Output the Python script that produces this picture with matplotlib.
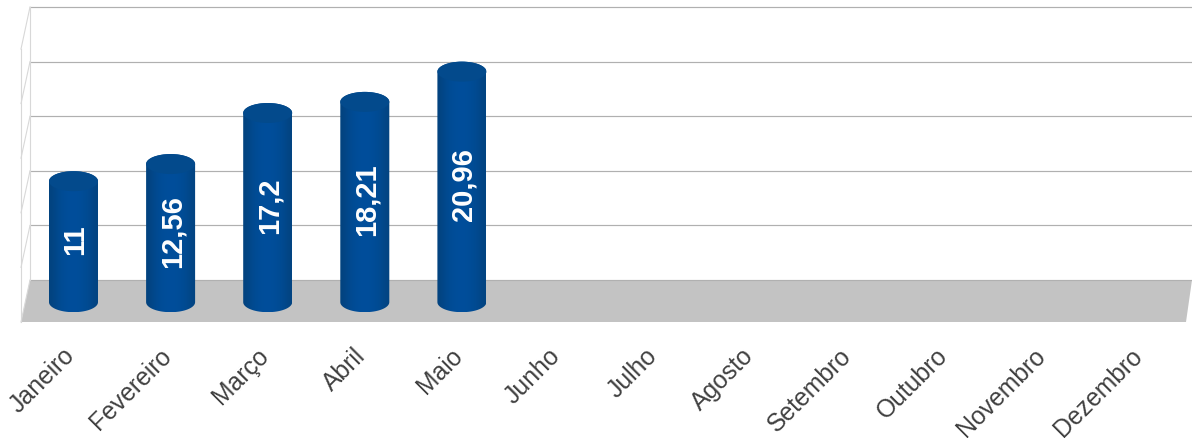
import numpy as np
import matplotlib
matplotlib.use("Agg")
import matplotlib.pyplot as plt
from matplotlib.patches import Ellipse, Polygon, PathPatch
from matplotlib.path import Path

plt.rcParams['font.family'] = ['Liberation Sans', 'DejaVu Sans']

months = ["Janeiro", "Fevereiro", "Março", "Abril", "Maio", "Junho", "Julho",
          "Agosto", "Setembro", "Outubro", "Novembro", "Dezembro"]
values = [11, 12.56, 17.2, 18.21, 20.96]
value_labels = ["11", "12,56", "17,2", "18,21", "20,96"]
grid_levels = [0, 5, 10, 15, 20, 25]

W, H = 1192, 439
fig = plt.figure(figsize=(W / 100, H / 100), dpi=100, facecolor="white")

# back wall and floor: x in pixels, y in chart units
wall = fig.add_axes([0, 0, 1, 1])
wall_scale = 10.92
wall.set_xlim(0, W)
wall.set_ylim(-(H - 281) / wall_scale, 281 / wall_scale)
wall.axis("off")

drop = 42 / wall_scale
wall.add_patch(Polygon([(21, -drop), (30, 0), (1192, 0), (1186, -drop)],
                       closed=True, fc="#c3c3c3", ec="none", zorder=1))
for level in grid_levels:
    wall.plot([30, 1192], [level, level], color="#b0b0b0", lw=0.85, zorder=2)
    wall.plot([21, 30], [level - drop, level], color="#d8d8d8", lw=0.8, zorder=2)
wall.plot([30, 30], [0, grid_levels[-1]], color="#d8d8d8", lw=0.8, zorder=2)
wall.plot([21, 21], [-drop, grid_levels[-1] - drop], color="#d8d8d8", lw=0.8, zorder=2)

# bars: x in categories, y in chart units
ax = fig.add_axes([0, 0, 1, 1])
ax.patch.set_alpha(0)
step, scale = 97.1, 11.0
ax.set_xlim(-73.5 / step, (W - 73.5) / step)
ax.set_ylim(-(H - 303.2) / scale, 303.2 / scale)
ax.axis("off")

half_w = 24.5 / step
half_h = 10 / scale
shade = np.array([[0.0, 0.5, 0.8, 0.95, 1.0, 0.95, 0.8, 0.55, 0.1]])
cmap = matplotlib.colors.LinearSegmentedColormap.from_list("bar", ["#03437f", "#004e9b"])

for i, v in enumerate(values):
    # cylinder body: rectangle closed by half ellipses
    t = np.linspace(np.pi, 2 * np.pi, 40)
    low = np.column_stack([i + half_w * np.cos(t), half_h * np.sin(t)])
    high = np.column_stack([i + half_w * np.cos(t[::-1]), v - half_h * np.sin(t[::-1])])
    outline = np.vstack([low, high])
    clip = PathPatch(Path(outline), fc="none", ec="none", transform=ax.transData)
    ax.add_patch(clip)
    im = ax.imshow(shade, cmap=cmap, vmin=0, vmax=1, aspect="auto", interpolation="bicubic",
                   extent=[i - half_w, i + half_w, -half_h, v + half_h], zorder=3)
    im.set_clip_path(clip)
    ax.add_patch(Ellipse((i, v), 2 * half_w, 2 * half_h, fc="#034a8c", ec="none", zorder=4))
    ax.annotate(value_labels[i], (i, v / 2), xytext=(2, 3), textcoords="offset pixels",
                rotation=90, color="white", fontsize=21, fontweight="bold",
                ha="center", va="center", zorder=5)

ax.set_xlim(-73.5 / step, (W - 73.5) / step)
ax.set_ylim(-(H - 303.2) / scale, 303.2 / scale)

for i, m in enumerate(months):
    ax.annotate(m, (i, 0), xytext=(-3, -49), textcoords="offset pixels",
                rotation=45, rotation_mode="anchor", ha="right", va="center",
                fontsize=17.8, color="#404040", zorder=5, annotation_clip=False)

fig.savefig("out.png", dpi=100)
